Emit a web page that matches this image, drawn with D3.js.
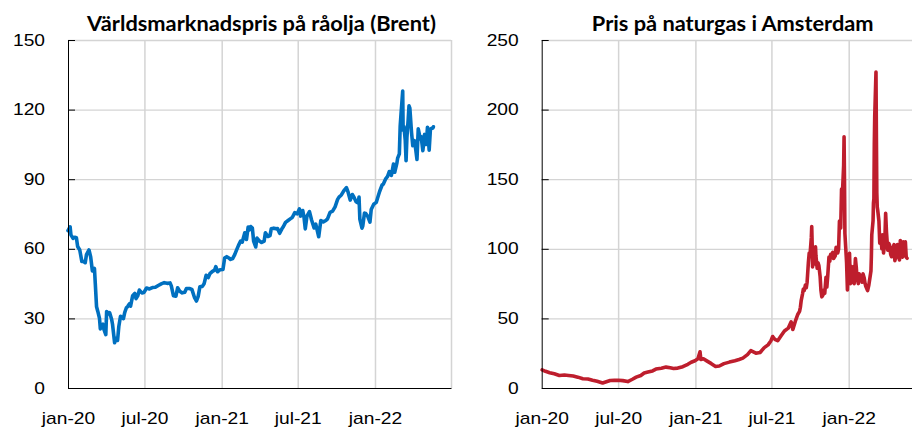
<!DOCTYPE html>
<html>
<head>
<meta charset="utf-8">
<title>Råolja och naturgas</title>
<style>
  body { margin: 0; background: #fff; }
  svg { display: block; font-family: Lato, "Open Sans", sans-serif; }
</style>
<script src="https://cdn.jsdelivr.net/npm/d3@7"></script>
</head>
<body>
<script>
// Brent, USD per fat
const brentDates = [
  "2020-01-01","2020-01-06","2020-01-08","2020-01-13","2020-01-17","2020-01-21","2020-01-24","2020-01-29",
  "2020-02-03","2020-02-07","2020-02-11","2020-02-14","2020-02-20","2020-02-24","2020-02-28","2020-03-04",
  "2020-03-06","2020-03-09","2020-03-12","2020-03-16","2020-03-18","2020-03-20","2020-03-24","2020-03-27",
  "2020-03-31","2020-04-02","2020-04-07","2020-04-09","2020-04-14","2020-04-16","2020-04-21","2020-04-24",
  "2020-04-28","2020-05-01","2020-05-05","2020-05-08","2020-05-12","2020-05-15","2020-05-19","2020-05-22",
  "2020-05-26","2020-05-29","2020-06-03","2020-06-08","2020-06-11","2020-06-15","2020-06-19","2020-06-25",
  "2020-06-30","2020-07-06","2020-07-13","2020-07-20","2020-07-27","2020-08-03","2020-08-10","2020-08-17",
  "2020-08-24","2020-08-31","2020-09-03","2020-09-08","2020-09-14","2020-09-18","2020-09-23","2020-09-29",
  "2020-10-05","2020-10-09","2020-10-16","2020-10-22","2020-10-28","2020-11-02","2020-11-06","2020-11-10",
  "2020-11-16","2020-11-20","2020-11-25","2020-11-30","2020-12-04","2020-12-10","2020-12-15","2020-12-18",
  "2020-12-22","2020-12-28","2021-01-04","2021-01-08","2021-01-13","2021-01-19","2021-01-22","2021-01-27",
  "2021-02-01","2021-02-05","2021-02-10","2021-02-15","2021-02-19","2021-02-25","2021-03-01","2021-03-05",
  "2021-03-08","2021-03-11","2021-03-15","2021-03-18","2021-03-23","2021-03-26","2021-03-31","2021-04-06",
  "2021-04-12","2021-04-15","2021-04-21","2021-04-26","2021-04-29","2021-05-05","2021-05-11","2021-05-14",
  "2021-05-19","2021-05-24","2021-05-28","2021-06-02","2021-06-08","2021-06-14","2021-06-18","2021-06-24",
  "2021-06-30","2021-07-05","2021-07-08","2021-07-13","2021-07-16","2021-07-19","2021-07-23","2021-07-29",
  "2021-08-03","2021-08-09","2021-08-13","2021-08-20","2021-08-25","2021-08-31","2021-09-06","2021-09-10",
  "2021-09-16","2021-09-22","2021-09-28","2021-10-04","2021-10-08","2021-10-13","2021-10-19","2021-10-25",
  "2021-10-29","2021-11-03","2021-11-08","2021-11-12","2021-11-17","2021-11-22","2021-11-24","2021-11-26",
  "2021-12-01","2021-12-03","2021-12-07","2021-12-10","2021-12-15","2021-12-20","2021-12-23","2021-12-29",
  "2022-01-04","2022-01-07","2022-01-12","2022-01-18","2022-01-21","2022-01-26","2022-01-31","2022-02-04",
  "2022-02-09","2022-02-14","2022-02-17","2022-02-22","2022-02-24","2022-02-28","2022-03-02","2022-03-04",
  "2022-03-08","2022-03-09","2022-03-11","2022-03-14","2022-03-16","2022-03-18","2022-03-21","2022-03-23",
  "2022-03-25","2022-03-29","2022-04-01","2022-04-05","2022-04-08","2022-04-11","2022-04-14","2022-04-19",
  "2022-04-21","2022-04-25","2022-04-29","2022-05-03","2022-05-06","2022-05-10","2022-05-13","2022-05-17",
  "2022-05-19","2022-05-20"
];
const brentValues = [
  67.8, 69.5, 66.0, 64.5, 65.0, 64.8, 61.0, 59.5,
  54.5, 54.5, 54.0, 57.5, 59.5, 56.5, 50.5, 51.5,
  45.0, 35.0, 33.0, 30.0, 25.5, 27.0, 27.5, 25.0,
  23.0, 33.0, 32.0, 32.5, 29.5, 27.5, 19.5, 21.5,
  20.5, 26.5, 30.9, 30.5, 29.9, 32.5, 34.6, 35.1,
  36.2, 35.3, 39.8, 40.8, 38.5, 39.7, 42.2, 41.0,
  41.2, 43.1, 42.7, 43.3, 43.4, 44.2, 44.9, 45.4,
  45.1, 45.3, 44.0, 39.8, 39.6, 43.2, 41.7, 41.0,
  41.3, 42.9, 42.9, 42.5, 39.1, 37.5, 39.5, 43.6,
  43.8, 44.9, 48.6, 47.6, 49.3, 50.3, 50.8, 52.3,
  50.1, 51.0, 51.1, 56.0, 56.6, 55.9, 55.4, 55.8,
  57.5, 59.3, 61.5, 63.3, 62.9, 66.9, 64.0, 69.4,
  68.2, 69.6, 68.9, 63.3, 60.8, 64.6, 63.5, 62.7,
  63.3, 66.9, 65.3, 65.7, 68.6, 68.9, 68.6, 68.7,
  66.7, 68.5, 69.6, 71.4, 72.2, 73.0, 73.5, 75.6,
  75.1, 77.2, 74.1, 76.5, 73.6, 68.6, 74.1, 76.0,
  72.4, 69.0, 70.6, 65.2, 72.2, 71.6, 72.2, 72.9,
  75.7, 76.2, 78.1, 81.3, 82.4, 83.2, 85.1, 86.4,
  84.4, 81.0, 83.4, 82.2, 80.3, 79.7, 82.3, 72.7,
  68.9, 69.9, 75.4, 75.2, 73.9, 71.5, 76.9, 79.2,
  80.0, 81.8, 84.7, 87.5, 87.9, 90.0, 91.2, 93.3,
  91.6, 96.5, 93.0, 96.8, 99.1, 100.9, 112.9, 118.1,
  128.0, 111.1, 112.7, 106.9, 98.0, 107.9, 115.6, 121.6,
  120.6, 110.2, 104.4, 106.6, 102.8, 98.5, 111.7, 107.3,
  108.3, 102.3, 109.3, 105.0, 112.4, 102.5, 111.6, 112.0,
  112.1, 112.6
];

// TTF Amsterdam, EUR per MWh
const gasDates = [
  "2020-01-02","2020-01-10","2020-01-20","2020-01-31","2020-02-12","2020-02-24","2020-03-05","2020-03-16",
  "2020-03-27","2020-04-08","2020-04-20","2020-05-01","2020-05-12","2020-05-25","2020-06-03","2020-06-12",
  "2020-06-22","2020-07-01","2020-07-12","2020-07-24","2020-08-04","2020-08-13","2020-08-24","2020-09-01",
  "2020-09-10","2020-09-21","2020-09-29","2020-10-12","2020-10-23","2020-11-02","2020-11-10","2020-11-20",
  "2020-12-02","2020-12-14","2020-12-22","2020-12-31","2021-01-07","2021-01-12","2021-01-14","2021-01-20",
  "2021-01-28","2021-02-08","2021-02-18","2021-02-27","2021-03-10","2021-03-23","2021-04-05","2021-04-15",
  "2021-04-24","2021-05-05","2021-05-13","2021-05-25","2021-06-04","2021-06-14","2021-06-23","2021-06-30",
  "2021-07-04","2021-07-09","2021-07-16","2021-07-24","2021-08-01","2021-08-10","2021-08-17","2021-08-21",
  "2021-08-27","2021-09-02","2021-09-06","2021-09-08","2021-09-10","2021-09-13","2021-09-15","2021-09-17",
  "2021-09-20","2021-09-22","2021-09-24","2021-09-27","2021-09-29","2021-10-01","2021-10-04","2021-10-05",
  "2021-10-06","2021-10-07","2021-10-08","2021-10-11","2021-10-13","2021-10-14","2021-10-15","2021-10-18",
  "2021-10-20","2021-10-22","2021-10-25","2021-10-27","2021-10-29","2021-11-01","2021-11-03","2021-11-05",
  "2021-11-08","2021-11-10","2021-11-12","2021-11-15","2021-11-17","2021-11-19","2021-11-22","2021-11-24",
  "2021-11-26","2021-11-30","2021-12-02","2021-12-06","2021-12-08","2021-12-10","2021-12-13","2021-12-15",
  "2021-12-17","2021-12-20","2021-12-21","2021-12-22","2021-12-23","2021-12-27","2021-12-29","2021-12-31",
  "2022-01-03","2022-01-05","2022-01-07","2022-01-10","2022-01-12","2022-01-14","2022-01-17","2022-01-19",
  "2022-01-21","2022-01-24","2022-01-26","2022-01-28","2022-01-31","2022-02-02","2022-02-04","2022-02-07",
  "2022-02-09","2022-02-11","2022-02-15","2022-02-18","2022-02-21","2022-02-23","2022-02-24","2022-02-25",
  "2022-02-28","2022-03-01","2022-03-02","2022-03-03","2022-03-04","2022-03-07","2022-03-08","2022-03-09",
  "2022-03-10","2022-03-11","2022-03-14","2022-03-16","2022-03-18","2022-03-21","2022-03-23","2022-03-25",
  "2022-03-28","2022-03-30","2022-04-01","2022-04-04","2022-04-06","2022-04-08","2022-04-11","2022-04-13",
  "2022-04-15","2022-04-19","2022-04-21","2022-04-25","2022-04-27","2022-04-29","2022-05-02","2022-05-04",
  "2022-05-06","2022-05-09","2022-05-11","2022-05-13","2022-05-16","2022-05-18","2022-05-20"
];
const gasValues = [
  13.0, 12.0, 11.0, 10.2, 9.0, 9.3, 9.0, 8.6,
  7.8, 6.7, 6.5, 5.6, 4.8, 3.6, 4.5, 5.4,
  5.5, 5.6, 5.3, 4.6, 6.3, 7.8, 9.0, 10.8,
  11.5, 12.3, 13.6, 14.2, 15.0, 14.5, 14.0, 14.3,
  15.3, 17.0, 18.5, 19.6, 21.0, 26.0, 20.5, 21.0,
  19.5, 17.5, 15.5, 15.8, 17.5, 18.6, 19.6, 20.5,
  21.5, 24.0, 26.8, 25.0, 25.5, 29.0, 31.0, 34.0,
  37.0, 35.0, 34.0, 37.5, 41.0, 43.0, 47.5, 42.0,
  48.0, 53.0, 55.0, 58.0, 63.0, 67.5, 71.0, 70.0,
  74.0, 72.0, 76.0, 90.0, 97.0, 96.0, 108.0, 116.0,
  104.0, 87.0, 92.0, 89.0, 95.0, 101.5, 95.0, 86.0,
  90.0, 88.0, 80.0, 70.0, 65.5, 67.0, 70.4, 68.0,
  79.6, 72.5, 80.0, 94.0, 91.0, 96.0, 94.0, 97.5,
  93.0, 95.0, 101.0, 97.0, 100.0, 120.0, 115.0, 143.0,
  139.0, 160.0, 180.5, 150.0, 111.0, 90.0, 70.4, 88.0,
  96.7, 75.0, 87.5, 76.0, 87.0, 75.0, 93.0, 87.0,
  79.0, 75.0, 82.0, 78.0, 80.0, 76.0, 82.0, 79.0,
  75.0, 72.8, 70.0, 74.0, 80.0, 84.0, 94.3, 110.0,
  120.0, 133.0, 136.0, 175.0, 195.0, 227.0, 180.0, 140.0,
  130.0, 128.0, 120.0, 104.0, 110.0, 100.0, 110.0, 97.0,
  105.0, 125.5, 112.0, 99.0, 104.0, 103.0, 96.0, 94.3,
  100.0, 103.0, 91.5, 97.0, 103.0, 95.0, 92.0, 106.0,
  98.0, 94.0, 105.0, 95.0, 105.0, 94.0, 93.2
];

const tickDates = ["2020-01-01", "2020-07-01", "2021-01-01", "2021-07-01", "2022-01-01", "2022-07-01"];
const tickLabels = ["jan-20", "jul-20", "jan-21", "jul-21", "jan-22", ""];
const brentTicks = [0, 30, 60, 90, 120, 150];
const gasTicks = [0, 50, 100, 150, 200, 250];

const width = 912;
const height = 428;
const plotTop = 40;
const plotBottom = 388;
const plotWidth = 383;
const sx = 1.2;      // texten i bilden är utdragen på bredden
const titleSx = 1.09;

const parse = d3.timeParse("%Y-%m-%d");

const svg = d3.select("body")
    .append("svg")
    .attr("width", width)
    .attr("height", height);

function panel(p) {
    const x = d3.scaleTime()
        .domain([parse(tickDates[0]), parse(tickDates[tickDates.length - 1])])
        .range([p.left, p.left + plotWidth]);
    const y = d3.scaleLinear()
        .domain([0, p.yTicks[p.yTicks.length - 1]])
        .range([plotBottom, plotTop]);

    const g = svg.append("g");

    // rutnät
    g.append("g")
        .attr("transform", `translate(${p.left},0)`)
        .call(d3.axisLeft(y).tickValues(p.yTicks.slice(1)).tickSize(-plotWidth).tickFormat(""))
        .call(a => a.select(".domain").remove())
        .call(a => a.selectAll("line").attr("stroke", "#d4d4d4").attr("stroke-width", 1.3));
    g.append("g")
        .attr("transform", `translate(0,${plotBottom})`)
        .call(d3.axisBottom(x).tickValues(tickDates.slice(1).map(parse)).tickSize(-(plotBottom - plotTop)).tickFormat(""))
        .call(a => a.select(".domain").remove())
        .call(a => a.selectAll("line").attr("stroke", "#d4d4d4").attr("stroke-width", 1.5));

    // linjen
    const data = p.dates.map((d, i) => ({ date: parse(d), value: p.values[i] }));
    g.append("path")
        .datum(data)
        .attr("fill", "none")
        .attr("stroke", p.color)
        .attr("stroke-width", 3.6)
        .attr("stroke-linejoin", "round")
        .attr("stroke-linecap", "round")
        .attr("d", d3.line().x(d => x(d.date)).y(d => y(d.value)));

    // y-axel
    g.append("g")
        .attr("transform", `translate(${p.left},0)`)
        .call(d3.axisLeft(y).tickValues(p.yTicks).tickSizeInner(-7).tickSizeOuter(0).tickPadding(23))
        .call(a => a.select(".domain").attr("stroke", "#000"))
        .call(a => a.selectAll("line").attr("stroke", "#000"))
        .call(a => a.selectAll("text")
            .attr("x", -23 / sx)
            .attr("transform", `scale(${sx},1)`)
            .attr("fill", "#000")
            .style("font-size", "16px"));

    // x-axel
    g.append("g")
        .attr("transform", `translate(0,${plotBottom})`)
        .call(d3.axisBottom(x).tickValues(tickDates.map(parse)).tickSize(0).tickSizeOuter(0)
            .tickFormat((d, i) => tickLabels[i]))
        .call(a => a.select(".domain").attr("stroke", "#000"))
        .call(a => a.selectAll("text")
            .attr("y", 36)
            .attr("dy", null)
            .attr("transform", `scale(${sx},1)`)
            .attr("fill", "#000")
            .style("font-size", "16px"));

    // rubrik
    svg.append("text")
        .attr("transform", `translate(${p.titleX},30.5) scale(${titleSx},1)`)
        .attr("text-anchor", "middle")
        .style("font-size", "20px")
        .style("font-weight", "bold")
        .text(p.title);
}

panel({
    left: 68,
    titleX: 261.5,
    title: "Världsmarknadspris på råolja (Brent)",
    yTicks: brentTicks,
    dates: brentDates,
    values: brentValues,
    color: "#0070c0"
});

panel({
    left: 541.7,
    titleX: 732.7,
    title: "Pris på naturgas i Amsterdam",
    yTicks: gasTicks,
    dates: gasDates,
    values: gasValues,
    color: "#be1e2d"
});
</script>
</body>
</html>
